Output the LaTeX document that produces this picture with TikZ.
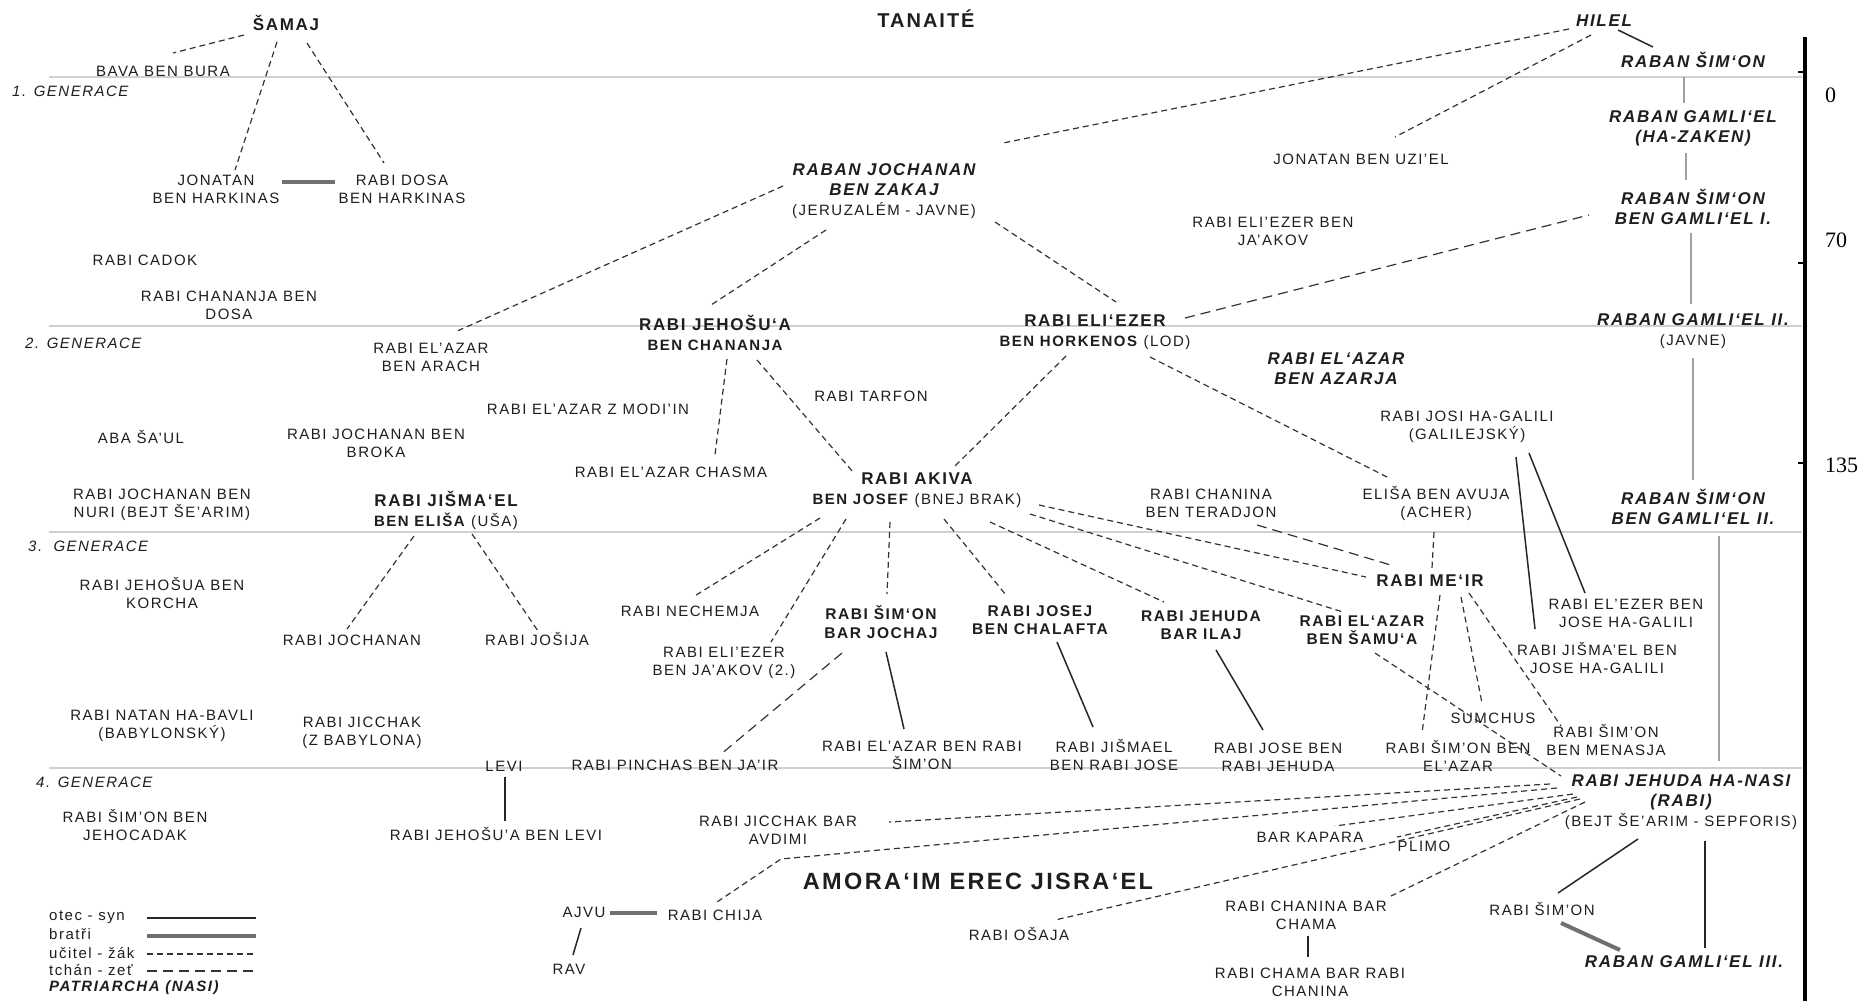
\documentclass[tikz,border=0pt]{standalone}
\usepackage{fontspec}
\setmainfont{Liberation Sans}[LetterSpace=10]
\newfontfamily\axisfont{Liberation Serif}
\usetikzlibrary{calc}
\definecolor{tcol}{HTML}{1E1E1E}
\definecolor{dcol}{HTML}{333333}
\definecolor{gline}{HTML}{D0D0D0}
\definecolor{brcol}{HTML}{707070}
\definecolor{patcol}{HTML}{A0A0A0}
\newcommand\reg[1]{{\fontsize{15}{18}\selectfont\mdseries\upshape #1}}
\newcommand\smb[1]{{\fontsize{15}{18}\selectfont\bfseries #1}}
\begin{document}
\begin{tikzpicture}[x=1pt,y=-1pt,
  txt/.style={inner sep=1pt, align=center, text=tcol, font={\fontsize{15}{18}\selectfont}},
  bnm/.style={txt, font={\fontsize{15.5}{18.5}\selectfont\bfseries}},
  big/.style={txt, font={\fontsize{17}{20}\selectfont\bfseries}},
  pat/.style={txt, font={\fontsize{17}{20}\selectfont\bfseries\itshape}},
  gen/.style={inner sep=0pt, anchor=west, text=tcol, font={\fontsize{15}{18}\selectfont\itshape}},
  leg/.style={inner sep=0pt, anchor=west, text=tcol, font={\fontsize{15}{18}\selectfont}},
  axl/.style={inner sep=0pt, anchor=west, text=black, font={\axisfont\fontsize{22}{26}\selectfont}},
  tch/.style={draw=dcol, line width=1.2pt, dash pattern=on 6pt off 4pt},
  tz/.style={draw=dcol, line width=1.2pt, dash pattern=on 10pt off 6pt},
  fs/.style={draw=black!85, line width=1.5pt},
  br/.style={draw=brcol, line width=4pt},
  pl/.style={draw=patcol, line width=2.5pt},
  genl/.style={draw=gline, line width=1.5pt}]
\fill[white] (0,0) rectangle (1868,1001);
\useasboundingbox (0,0) rectangle (1868,1001);

% generation rules
\draw[genl] (49,77) -- (1802,77);
\draw[genl] (49,326) -- (1802,326);
\draw[genl] (49,532) -- (1802,532);
\draw[genl] (49,768) -- (1802,768);

% time axis
\draw[line width=4pt] (1805,37) -- (1805,1001);
\draw[line width=2.5pt] (1798,72) -- (1805,72);
\draw[line width=2.5pt] (1798,263) -- (1805,263);
\draw[line width=2.5pt] (1798,463) -- (1805,463);
\node[axl] (ax0) at (1825,95) {0};
\node[axl] (ax70) at (1825,240) {70};
\node[axl] (ax135) at (1825,465) {135};

% nodes
\node[big] (samaj) at (286,23) {ŠAMAJ};
\node[txt, font={\fontsize{20}{24}\selectfont\bfseries}] (tanaite) at (926,19) {TANAITÉ};
\node[pat] (hilel) at (1604,21) {HILEL};
\node[pat] (rsimon) at (1693,60) {RABAN ŠIM‘ON};
\node[txt] (bava) at (163,71) {BAVA BEN BURA};
\node[gen] (gen1) at (12,91) {1. GENERACE};
\node[txt] (jonatanh) at (216,189) {JONATAN\\BEN HARKINAS};
\node[txt] (dosa) at (402,189) {RABI DOSA\\BEN HARKINAS};
\node[pat] (rgamliel) at (1693,128) {RABAN GAMLI‘EL\\(HA-ZAKEN)};
\node[txt] (uziel) at (1361,159) {JONATAN BEN UZI'EL};
\node[pat] (jochanan) at (884,191) {RABAN JOCHANAN\\BEN ZAKAJ\\\reg{(JERUZALÉM - JAVNE)}};
\node[pat] (sbg1) at (1693,207) {RABAN ŠIM‘ON\\BEN GAMLI‘EL I.};
\node[txt] (eliezerja) at (1273,231) {RABI ELI'EZER BEN\\JA'AKOV};
\node[txt] (cadok) at (145,260) {RABI CADOK};
\node[txt] (chananja) at (229,305) {RABI CHANANJA BEN\\DOSA};
\node[gen] (gen2) at (25,343) {2. GENERACE};
\node[big] (jehosua) at (715,333) {RABI JEHOŠU‘A\\\smb{BEN CHANANJA}};
\node[big] (eliezer) at (1095,332) {RABI ELI‘EZER\\\smb{BEN HORKENOS} \reg{(LOD)}};
\node[pat] (g2) at (1693,331) {RABAN GAMLI‘EL II.\\\reg{(JAVNE)}};
\node[txt] (arach) at (431,357) {RABI EL'AZAR\\BEN ARACH};
\node[pat] (azarja) at (1336,369) {RABI EL‘AZAR\\BEN AZARJA};
\node[txt] (tarfon) at (871,396) {RABI TARFON};
\node[txt] (modiin) at (588,409) {RABI EL'AZAR Z MODI'IN};
\node[txt] (galili) at (1467,427) {RABI JOSI HA-GALILI\\(GALILEJSKÝ)};
\node[txt] (abasaul) at (141,437) {ABA ŠA'UL};
\node[txt] (broka) at (376,443) {RABI JOCHANAN BEN\\BROKA};
\node[txt] (chasma) at (671,472) {RABI EL'AZAR CHASMA};
\node[big] (akiva) at (917,490) {RABI AKIVA\\\smb{BEN JOSEF} \reg{(BNEJ BRAK)}};
\node[txt] (chanina) at (1211,503) {RABI CHANINA\\BEN TERADJON};
\node[txt] (elisa) at (1436,503) {ELIŠA BEN AVUJA\\(ACHER)};
\node[txt] (nuri) at (162,505) {RABI JOCHANAN BEN\\NURI (BEJT ŠE'ARIM)};
\node[big] (jisma) at (446,510) {RABI JIŠMA‘EL\\\smb{BEN ELIŠA} \reg{(UŠA)}};
\node[pat] (sbg2) at (1693,507) {RABAN ŠIM‘ON\\BEN GAMLI‘EL II.};
\node[gen] (gen3) at (28,546) {3.\ \ GENERACE};
\node[big] (meir) at (1430,581) {RABI ME‘IR};
\node[txt] (korcha) at (162,593) {RABI JEHOŠUA BEN\\KORCHA};
\node[txt] (nechemja) at (690,611) {RABI NECHEMJA};
\node[bnm] (barjochaj) at (881,622) {RABI ŠIM‘ON\\BAR JOCHAJ};
\node[bnm] (josej) at (1040,620) {RABI JOSEJ\\BEN CHALAFTA};
\node[bnm] (jehuda) at (1201,625) {RABI JEHUDA\\BAR ILAJ};
\node[bnm] (samua) at (1362,630) {RABI EL‘AZAR\\BEN ŠAMU‘A};
\node[txt] (eleazerjose) at (1626,613) {RABI EL'EZER BEN\\JOSE HA-GALILI};
\node[txt] (rjochanan) at (352,640) {RABI JOCHANAN};
\node[txt] (josija) at (537,639) {RABI JOŠIJA};
\node[txt] (jismaeljose) at (1597,658) {RABI JIŠMA'EL BEN\\JOSE HA-GALILI};
\node[txt] (eliezer2) at (724,663) {RABI ELI'EZER\\BEN JA'AKOV (2.)};
\node[txt] (natan) at (162,726) {RABI NATAN HA-BAVLI\\(BABYLONSKÝ)};
\node[txt] (jicchakb) at (362,733) {RABI JICCHAK\\(Z BABYLONA)};
\node[txt] (sumchus) at (1493,718) {SUMCHUS};
\node[txt] (menasja) at (1606,740) {RABI ŠIM'ON\\BEN MENASJA};
\node[txt] (elazarsimon) at (922,755) {RABI EL'AZAR BEN RABI\\ŠIM'ON};
\node[txt] (jismaelrj) at (1114,755) {RABI JIŠMAEL\\BEN RABI JOSE};
\node[txt] (joserj) at (1278,757) {RABI JOSE BEN\\RABI JEHUDA};
\node[txt] (simonelazar) at (1458,756) {RABI ŠIM'ON BEN\\EL'AZAR};
\node[txt] (levi) at (504,766) {LEVI};
\node[txt] (pinchas) at (675,765) {RABI PINCHAS BEN JA'IR};
\node[gen] (gen4) at (36,782) {4. GENERACE};
\node[pat] (nasi) at (1681,802) {RABI JEHUDA HA-NASI\\(RABI)\\\reg{(BEJT ŠE'ARIM - SEPFORIS)}};
\node[txt] (jehocadak) at (135,825) {RABI ŠIM'ON BEN\\JEHOCADAK};
\node[txt] (avdimi) at (778,830) {RABI JICCHAK BAR\\AVDIMI};
\node[txt] (jbl) at (496,834) {RABI JEHOŠU'A BEN LEVI};
\node[txt] (kapara) at (1310,837) {BAR KAPARA};
\node[txt] (plimo) at (1424,846) {PLIMO};
\node[txt, font={\fontsize{23.5}{28}\selectfont\bfseries}] (amoraim) at (978,881) {AMORA‘IM EREC JISRA‘EL};
\node[txt] (chama) at (1306,915) {RABI CHANINA BAR\\CHAMA};
\node[txt] (rsimon2) at (1542,909) {RABI ŠIM'ON};
\node[txt] (ajvu) at (584,912) {AJVU};
\node[txt] (chija) at (715,915) {RABI CHIJA};
\node[txt] (osaja) at (1019,934) {RABI OŠAJA};
\node[txt] (rav) at (569,969) {RAV};
\node[pat] (g3) at (1684,962) {RABAN GAMLI‘EL III.};
\node[txt] (chamabar) at (1310,982) {RABI CHAMA BAR RABI\\CHANINA};

% legend
\node[leg] (l1) at (49,917) {otec - syn};
\node[leg] (l2) at (49,934) {bratři};
\node[leg] (l3) at (49,953) {učitel - žák};
\node[leg] (l4) at (49,970) {tchán - zeť};
\node[leg, font={\fontsize{15}{18}\selectfont\bfseries\itshape}] (l5) at (49,988) {PATRIARCHA (NASI)};
\coordinate (l1a) at (147,918); \coordinate (l1b) at (256,918);
\coordinate (l2a) at (147,936); \coordinate (l2b) at (256,936);
\coordinate (l3a) at (147,954); \coordinate (l3b) at (256,954);
\coordinate (l4a) at (147,971); \coordinate (l4b) at (256,971);
\draw[fs] (l1a) -- (l1b);
\draw[br] (l2a) -- (l2b);
\draw[tch] (l3a) -- (l3b);
\draw[tz] (l4a) -- (l4b);

% teacher - student
\draw[tch] ($(samaj)+(-42,12)$) -- ($(bava)+(10,-18)$);
\draw[tch] ($(samaj)+(-9,19)$) -- ($(jonatanh)+(19,-19)$);
\draw[tch] ($(samaj)+(21,20)$) -- ($(dosa)+(-18,-26)$);
\draw[tch] ($(hilel)+(-35,8)$) -- ($(jochanan)+(119,-48)$);
\draw[tch] ($(hilel)+(-13,14)$) -- ($(uziel)+(34,-22)$);
\draw[tch] ($(jochanan)+(-101,-5)$) -- ($(arach)+(24,-25)$);
\draw[tch] ($(jochanan)+(-58,39)$) -- ($(jehosua)+(-4,-28)$);
\draw[tch] ($(jochanan)+(111,31)$) -- ($(eliezer)+(21,-30)$);
\draw[tch] ($(jehosua)+(12,26)$) -- ($(chasma)+(44,-17)$);
\draw[tch] ($(jehosua)+(42,27)$) -- ($(akiva)+(-64,-18)$);
\draw[tch] ($(eliezer)+(-29,24)$) -- ($(akiva)+(36,-22)$);
\draw[tch] ($(eliezer)+(55,25)$) -- ($(elisa)+(-49,-26)$);
\draw[tch] ($(akiva)+(122,15)$) -- ($(meir)+(-64,-4)$);
\draw[tch] ($(akiva)+(113,24)$) -- ($(samua)+(-19,-18)$);
\draw[tch] ($(akiva)+(73,32)$) -- ($(jehuda)+(-37,-23)$);
\draw[tch] ($(akiva)+(-97,28)$) -- ($(nechemja)+(3,-14)$);
\draw[tch] ($(akiva)+(-71,29)$) -- ($(eliezer2)+(47,-21)$);
\draw[tch] ($(akiva)+(-27,32)$) -- ($(barjochaj)+(6,-28)$);
\draw[tch] ($(akiva)+(27,29)$) -- ($(josej)+(-34,-25)$);
\draw[tch] ($(jisma)+(-32,26)$) -- ($(rjochanan)+(-5,-11)$);
\draw[tch] ($(jisma)+(26,24)$) -- ($(josija)+(1,-8)$);
\draw[tch] ($(elisa)+(-2,29)$) -- ($(meir)+(2,-13)$);
\draw[tch] ($(meir)+(10,14)$) -- ($(simonelazar)+(-36,-23)$);
\draw[tch] ($(meir)+(31,16)$) -- ($(sumchus)+(-11,-15)$);
\draw[tch] ($(meir)+(39,12)$) -- ($(menasja)+(-45,-14)$);
\draw[tch] ($(samua)+(13,23)$) -- ($(nasi)+(-120,-26)$);
\draw[tch] ($(nasi)+(-131,-18)$) -- ($(avdimi)+(111,-8)$);
\coordinate (chijabend) at (781,859);
\draw[tch] ($(nasi)+(-124,-14)$) -- (chijabend) -- ($(chija)+(2,-13)$);
\draw[tch] ($(nasi)+(-108,-8)$) -- ($(kapara)+(25,-11)$);
\draw[tch] ($(nasi)+(-104,-5)$) -- ($(plimo)+(-27,-9)$);
\draw[tch] ($(nasi)+(-101,-3)$) -- ($(osaja)+(36,-14)$);
\draw[tch] ($(nasi)+(-96,0)$) -- ($(chama)+(85,-19)$);

% father-in-law - son-in-law
\draw[tz] ($(eliezer)+(90,-14)$) -- ($(sbg1)+(-104,8)$);
\draw[tz] ($(chanina)+(46,22)$) -- ($(meir)+(-36,-15)$);
\draw[tz] ($(barjochaj)+(-39,31)$) -- ($(pinchas)+(45,-10)$);

% father - son
\draw[fs] ($(hilel)+(14,9)$) -- ($(rsimon)+(-40,-13)$);
\draw[fs] ($(barjochaj)+(5,30)$) -- ($(elazarsimon)+(-18,-26)$);
\draw[fs] ($(josej)+(17,22)$) -- ($(jismaelrj)+(-21,-28)$);
\draw[fs] ($(jehuda)+(15,25)$) -- ($(joserj)+(-15,-27)$);
\draw[fs] ($(galili)+(49,30)$) -- ($(jismaeljose)+(-62,-29)$);
\draw[fs] ($(galili)+(62,26)$) -- ($(eleazerjose)+(-41,-20)$);
\draw[fs] ($(levi)+(1,11)$) -- ($(jbl)+(9,-13)$);
\draw[fs] ($(ajvu)+(-3,16)$) -- ($(rav)+(4,-14)$);
\draw[fs] ($(chama)+(2,21)$) -- ($(chamabar)+(-2,-25)$);
\draw[fs] ($(nasi)+(-43,37)$) -- ($(rsimon2)+(16,-16)$);
\draw[fs] ($(nasi)+(24,39)$) -- ($(g3)+(21,-14)$);

% brothers
\draw[br] ($(jonatanh)+(66,-7)$) -- ($(dosa)+(-67,-7)$);
\draw[br] ($(ajvu)+(26,1)$) -- ($(chija)+(-58,-2)$);
\draw[br] ($(rsimon2)+(19,14)$) -- ($(g3)+(-64,-12)$);

% patriarchal succession
\draw[pl] ($(rsimon)+(-9,17)$) -- ($(rgamliel)+(-9,-25)$);
\draw[pl] ($(rgamliel)+(-7,25)$) -- ($(sbg1)+(-7,-27)$);
\draw[pl] ($(sbg1)+(-2,26)$) -- ($(g2)+(-2,-27)$);
\draw[pl] ($(g2)+(0,27)$) -- ($(sbg2)+(0,-27)$);
\draw[pl] ($(sbg2)+(26,29)$) -- ($(nasi)+(38,-41)$);
\end{tikzpicture}
\end{document}
